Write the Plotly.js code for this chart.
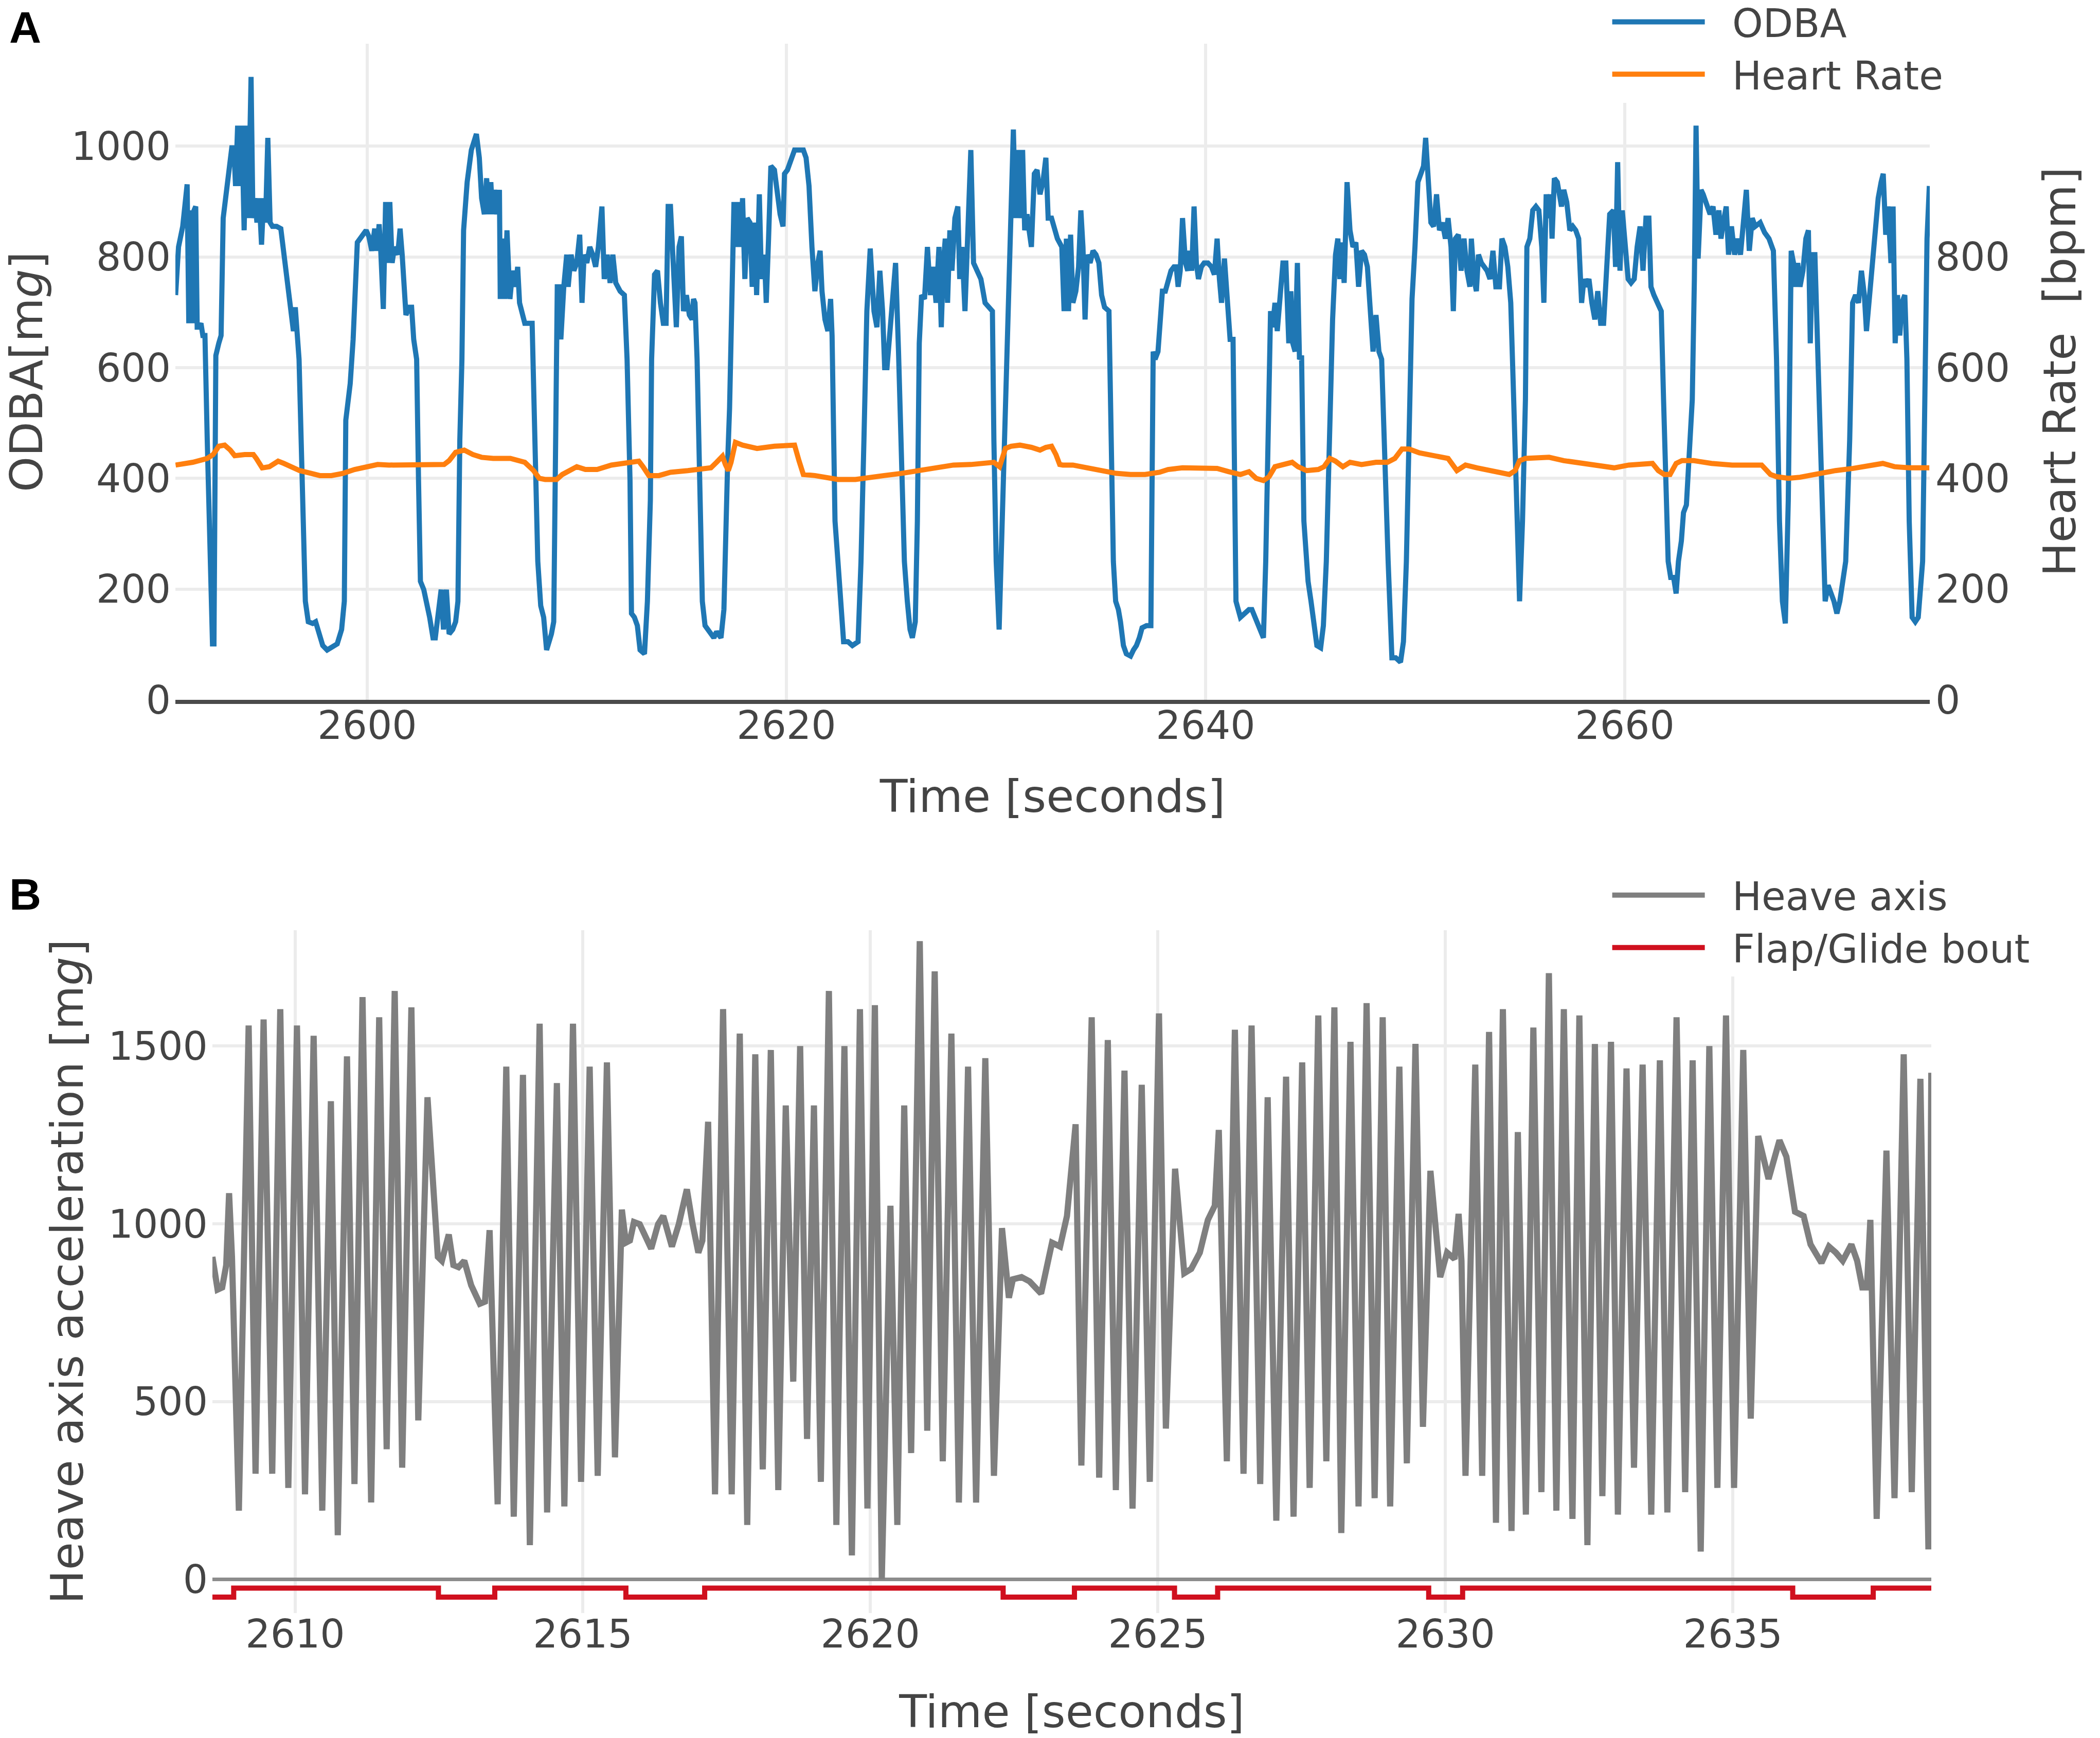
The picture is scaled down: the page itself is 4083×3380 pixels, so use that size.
<!DOCTYPE html>
<html>
<head>
<meta charset="utf-8">
<script src="https://cdn.plot.ly/plotly-3.0.1.min.js"></script>
<style>html,body{margin:0;padding:0;background:#fff;}#chart{width:4083px;height:3380px;}</style>
</head>
<body>
<div id="chart"></div>
<script>
// ---------- Panel A : ODBA and heart rate ----------
const odbaTime = [
2590.86,2591.0,2591.2,2591.41,2591.49,2591.57,2591.65,2591.74,2591.82,2591.89,2591.96,2592.07,2592.16,2592.26,2592.37,2592.51,2592.62,2592.69,2592.78,2592.92,
2593.03,2593.13,2593.33,2593.54,2593.64,2593.72,2593.82,2593.91,2594.02,2594.13,2594.23,2594.33,2594.46,2594.55,2594.64,2594.74,2594.85,2594.96,2595.06,2595.15,
2595.26,2595.37,2595.48,2595.68,2595.88,2596.02,2596.23,2596.37,2596.48,2596.57,2596.67,2596.75,2596.85,2596.99,2597.05,2597.19,2597.40,2597.54,2597.67,2597.88,
2598.09,2598.29,2598.57,2598.78,2598.91,2598.98,2599.19,2599.33,2599.53,2599.74,2599.95,2600.08,2600.22,2600.36,2600.47,2600.57,2600.64,2600.77,2600.88,2600.98,
2601.08,2601.19,2601.30,2601.46,2601.57,2601.67,2601.85,2601.99,2602.12,2602.22,2602.36,2602.45,2602.54,2602.70,2602.84,2602.98,2603.14,2603.25,2603.39,2603.53,
2603.64,2603.78,2603.91,2604.08,2604.22,2604.33,2604.42,2604.52,2604.60,2604.77,2604.97,2605.21,2605.35,2605.46,2605.59,2605.70,2605.80,2605.90,2605.98,2606.08,
2606.19,2606.31,2606.35,2606.45,2606.56,2606.67,2606.81,2606.94,2607.08,2607.18,2607.27,2607.38,2607.52,2607.87,2608.0,2608.14,2608.28,2608.42,2608.56,2608.69,
2608.79,2608.90,2609.01,2609.07,2609.18,2609.24,2609.38,2609.52,2609.59,2609.73,2609.86,2610.0,2610.14,2610.25,2610.35,2610.48,2610.62,2610.76,2610.90,2611.03,
2611.20,2611.31,2611.45,2611.59,2611.72,2611.86,2612.07,
2612.27,2612.40,2612.54,2612.61,2612.75,2612.89,2613.02,2613.23,2613.37,2613.51,2613.57,2613.71,2613.85,2613.99,2614.13,2614.26,2614.36,2614.47,2614.61,2614.75,
2614.88,2614.99,2615.09,2615.23,2615.37,2615.50,2615.57,2615.64,2615.74,2615.85,2615.99,2616.12,2616.33,2616.54,2616.67,2616.88,2617.02,2617.11,2617.20,2617.29,
2617.43,2617.50,2617.61,2617.71,2617.80,2617.91,2618.02,2618.13,2618.26,2618.37,2618.49,2618.58,2618.71,2618.81,2618.95,2619.04,2619.15,2619.26,2619.43,2619.57,
2619.70,2619.84,2619.91,2620.05,2620.26,2620.39,2620.60,2620.81,2620.94,2621.08,2621.22,2621.36,2621.50,2621.61,2621.70,2621.84,2621.98,2622.11,2622.18,2622.32,
2622.46,2622.60,2622.73,2622.94,2623.15,2623.42,2623.56,2623.70,2623.84,2624.0,2624.18,2624.32,2624.46,2624.59,2624.69,2624.80,2624.94,2625.08,2625.21,2625.35,
2625.49,2625.63,2625.77,2625.90,2626.01,2626.15,2626.25,2626.34,2626.45,2626.59,2626.73,2626.87,2627.0,2627.14,2627.28,2627.39,2627.49,2627.58,2627.69,2627.80,
2627.90,2628.04,2628.18,2628.27,2628.38,2628.52,2628.66,2628.80,2628.93,2629.07,2629.28,2629.48,2629.69,2629.83,2629.90,2630.01,2630.15,2630.24,2630.34,2630.45,
2630.61,2630.72,2630.83,2630.93,2631.03,2631.14,2631.27,2631.37,2631.48,2631.58,2631.69,2631.83,2631.96,2632.10,2632.24,2632.38,2632.49,2632.65,2632.93,
2633.14,2633.25,2633.36,2633.46,2633.56,2633.67,2633.81,2633.94,2634.05,2634.15,2634.25,2634.36,2634.49,2634.63,2634.77,2634.91,2635.04,2635.18,2635.39,2635.49,
2635.60,2635.71,2635.84,2635.94,2636.08,2636.22,2636.42,2636.56,2636.70,2636.84,2636.97,2637.18,2637.39,2637.50,2637.59,2637.73,2637.87,2637.94,2638.08,2638.21,
2638.35,2638.49,2638.60,2638.69,2638.79,2638.90,2639.04,2639.15,2639.25,2639.34,2639.45,2639.56,2639.66,2639.80,2639.93,2640.11,2640.28,2640.42,2640.55,2640.66,
2640.76,2640.90,2641.04,2641.17,2641.31,2641.38,2641.45,2641.66,2641.86,2642.07,2642.21,2642.41,2642.59,2642.76,2642.87,2642.96,2643.10,2643.20,2643.31,2643.42,
2643.52,2643.69,2643.83,2643.97,2644.07,2644.16,2644.27,2644.38,2644.48,2644.58,2644.69,2644.89,2645.03,2645.17,2645.31,2645.49,2645.62,2645.76,2645.93,2646.06,
2646.20,2646.31,2646.41,2646.50,2646.61,2646.75,2646.89,2647.03,2647.17,2647.30,2647.44,2647.58,2647.72,2647.85,2647.99,2648.13,2648.27,2648.40,2648.57,2648.71,
2648.89,2649.07,2649.30,2649.44,2649.58,2649.71,2649.85,2649.99,2650.13,2650.27,2650.40,2650.50,2650.61,2650.75,2650.88,2651.02,2651.16,2651.30,2651.44,2651.57,
2651.71,2651.82,2651.92,2652.06,2652.19,2652.33,2652.47,2652.61,2652.68,2652.81,2652.92,2653.02,2653.16,2653.30,2653.43,2653.57,2653.71,2653.85,
2654.02,2654.14,2654.28,2654.42,2654.56,2654.70,2654.84,2654.98,2655.12,2655.26,2655.33,2655.47,2655.61,2655.76,2655.90,2656.04,2656.14,2656.25,2656.36,2656.46,
2656.53,2656.64,2656.78,2656.88,2656.98,2657.09,2657.23,2657.38,2657.52,2657.66,2657.80,2657.94,2658.05,2658.15,2658.29,2658.43,2658.57,2658.71,2658.85,2658.99,
2659.14,2659.28,2659.46,2659.56,2659.66,2659.77,2659.88,2660.02,2660.16,2660.30,2660.45,2660.59,2660.73,2660.87,2661.01,2661.15,2661.25,2661.39,2661.57,2661.74,
2661.85,2661.95,2662.07,2662.19,2662.33,2662.45,2662.56,2662.70,2662.80,2662.94,2663.08,2663.22,2663.32,2663.40,2663.50,2663.64,2663.74,2663.85,2663.97,2664.07,
2664.21,2664.35,2664.49,2664.59,2664.70,2664.84,2664.95,2665.09,2665.24,2665.38,2665.52,2665.66,2665.80,2665.94,2666.08,2666.22,2666.46,2666.67,2666.88,2667.09,
2667.24,2667.38,2667.52,2667.66,2667.80,2667.94,2668.05,2668.15,2668.25,2668.36,2668.50,2668.64,2668.76,2668.85,2668.95,2669.07,2669.18,2669.28,2669.42,2669.56,
2669.70,2669.84,2669.98,2670.12,2670.26,2670.40,2670.54,2670.73,2670.87,2671.01,2671.15,2671.29,2671.43,2671.53,2671.67,2671.81,2671.95,2672.09,2672.23,2672.33,
2672.45,2672.56,2672.70,2672.80,2672.90,2673.01,2673.12,2673.22,2673.36,2673.46,2673.57,2673.71,2673.86,2674.0,2674.21,2674.35,2674.42,2674.53
];
const odbaValue = [
731,818,855,931,680,884,680,884,891,673,673,680,658,658,469,214,101,101,622,644,
658,870,928,997,997,928,1037,928,1037,848,1037,870,1125,870,906,862,906,822,906,862,
1015,862,855,855,851,811,738,709,666,709,666,615,469,250,178,141,138,141,127,98,
90,94,101,127,178,505,571,651,826,837,848,837,811,851,811,859,818,706,899,789,
899,789,818,804,851,804,695,709,709,651,615,396,214,199,178,149,112,112,156,199,
127,199,119,127,141,178,469,615,848,935,993,1022,979,906,877,942,877,935,877,921,
877,921,724,833,724,848,724,775,746,782,717,702,680,680,505,250,170,149,90,105,
119,141,432,746,746,651,746,804,746,804,775,789,840,717,804,789,818,804,782,818,
891,760,804,753,804,753,738,
731,615,396,156,149,134,90,83,178,360,615,768,775,717,680,680,891,891,797,673,
818,837,702,731,695,687,724,717,615,396,178,134,123,112,123,112,163,323,432,527,
818,899,818,899,818,906,760,870,862,746,862,731,913,760,804,717,833,964,957,906,
877,855,950,957,979,993,993,993,979,928,818,738,789,811,738,687,666,724,658,323,
250,178,105,105,98,105,250,469,702,815,702,673,775,702,600,600,658,717,789,629,
469,250,178,127,112,141,323,644,731,724,818,731,782,717,818,673,789,833,717,848,
775,870,891,760,818,702,848,993,789,775,760,717,709,702,469,250,127,250,360,469,
687,884,1030,870,993,870,993,848,877,848,818,950,957,913,935,979,870,870,833,
818,702,833,702,840,717,738,782,884,818,687,804,789,811,804,789,731,709,702,469,
250,178,163,141,98,83,79,90,98,112,130,134,134,629,615,629,702,738,738,760,
775,782,782,746,775,870,789,775,811,775,891,789,760,782,789,789,782,768,833,760,
717,797,724,651,651,396,178,149,156,163,163,145,130,112,250,432,702,673,717,666,
717,789,789,644,738,644,629,789,615,622,323,214,178,134,98,94,134,250,542,687,
804,833,760,826,753,935,848,818,826,746,811,804,782,687,629,695,629,615,396,250,
76,76,68,105,250,469,724,818,935,950,964,1015,942,862,855,913,848,862,833,870,
818,702,833,840,775,833,775,746,833,760,738,804,789,782,775,760,811,746,
746,833,818,782,717,542,323,178,323,542,818,833,884,891,884,818,717,913,870,913,
833,942,935,913,891,921,899,848,855,848,833,717,760,746,760,717,687,738,680,680,
789,877,884,782,971,775,884,811,760,753,760,818,855,775,870,870,746,731,717,702,
542,396,250,221,221,192,250,287,338,352,432,542,760,1037,797,921,913,899,884,877,
891,840,884,833,862,891,804,855,804,833,804,855,921,811,870,855,862,844,833,811,
615,323,178,138,360,811,789,746,789,746,775,833,848,644,804,804,644,542,360,178,
207,192,178,156,178,214,250,469,717,731,717,775,731,666,731,789,848,906,935,950,
840,891,789,891,644,731,658,717,731,615,323,149,141,149,250,687,833,928
];
const hrTime = [
2590.86,2591.68,2592.37,2592.65,2592.92,2593.20,2593.47,2593.68,2594.16,2594.57,2594.71,2594.99,2595.33,2595.75,2596.02,2596.37,2596.78,2597.33,2597.74,2598.29,
2598.84,2599.40,2599.95,2600.50,2601.05,2601.60,2602.29,2602.98,2603.67,2603.91,2604.22,2604.63,2605.04,2605.46,2606.01,2606.83,2607.52,2607.94,2608.21,2608.49,
2609.04,2609.31,2609.59,2610.0,2610.41,2610.97,2611.65,2612.07,
2612.54,2612.96,2613.16,2613.44,2613.92,2614.47,2615.30,2615.99,2616.40,2616.67,2616.95,2617.09,2617.23,2617.36,2617.57,2617.91,2618.60,2619.43,2620.39,2620.60,
2620.81,2621.36,2621.91,2622.46,2623.29,2624.11,2624.66,2625.49,2626.32,2627.14,2627.97,2628.80,2629.90,2630.17,2630.45,2630.72,2631.14,2631.69,2632.10,2632.38,
2632.65,2632.86,2633.04,
2633.19,2633.67,2634.36,2635.04,2635.73,2636.42,2637.11,2637.80,2638.21,2638.90,2639.73,2640.55,2641.11,2641.66,2642.07,2642.41,2642.76,2643.03,2643.31,2643.72,
2644.13,2644.41,2644.82,2645.38,2645.65,2645.93,2646.20,2646.55,2646.89,2647.44,2648.13,2648.68,2649.03,2649.37,2649.71,2650.20,2650.88,2651.57,2651.99,2652.40,
2652.95,2653.50,2653.89,
2654.49,2654.77,2654.98,2655.26,2655.97,2656.39,2657.09,2658.08,2658.78,2659.49,2660.19,2661.32,2661.60,2661.88,2662.16,2662.45,2662.73,2663.29,2664.14,2665.12,
2666.53,2666.95,2667.24,2667.80,2668.36,2669.07,2669.49,2670.05,2670.90,2671.46,2672.31,2672.87,2673.57,2674.53
];
const hrValue = [
424,429,436,443,458,460,451,441,443,443,436,419,421,431,427,421,414,409,405,405,
409,416,421,425,424,424,424,424,425,432,447,451,443,438,436,436,429,414,400,398,
398,407,412,421,416,416,424,427,
429,431,421,405,405,411,414,416,419,429,440,425,414,429,465,460,454,458,460,432,
407,405,401,398,398,401,405,409,414,419,424,425,429,421,454,458,460,456,451,456,
458,443,425,
424,424,419,414,409,407,407,411,416,419,419,418,412,407,412,400,396,403,421,425,
429,421,414,416,421,436,431,421,429,425,429,429,436,453,453,446,441,436,414,424,
419,414,411,
407,414,432,436,438,438,432,427,424,419,424,427,414,407,407,427,432,432,427,424,
424,407,403,400,402,407,411,414,418,421,427,421,419,419
];

// ---------- Panel B : heave axis and flap/glide bouts ----------
const heaveTime = [
2608.56,2608.65,2608.73,2608.80,2608.85,2608.90,2609.02,2609.19,2609.31,2609.45,2609.60,2609.74,2609.88,2610.03,2610.17,2610.32,2610.47,2610.62,2610.74,2610.90,
2611.03,2611.17,2611.32,2611.46,2611.59,2611.73,2611.86,2612.02,2612.14,2612.30,2612.48,2612.55,2612.67,2612.75,2612.84,2612.94,2613.06,2613.21,2613.30,2613.38,
2613.52,2613.67,2613.80,2613.96,2614.08,2614.25,2614.38,2614.55,2614.68,2614.83,2614.97,2615.12,2615.26,2615.42,2615.56,2615.68,2615.75,2615.82,2615.89,2615.99,
2616.19,2616.31,2616.40,2616.55,2616.67,2616.81,2616.91,2617.01,2617.08,2617.18,2617.30,2617.44,2617.59,2617.73,2617.86,2618.00,2618.13,2618.27,2618.40,2618.53,
2618.66,2618.78,2618.90,2619.02,2619.14,2619.28,2619.41,2619.55,2619.68,2619.82,2619.95,2620.08,2620.20,2620.35,2620.47,2620.59,2620.71,2620.86,2620.99,2621.12,
2621.26,2621.41,2621.54,2621.70,2621.84,2622.00,2622.15,2622.29,2622.41,2622.48,2622.63,2622.77,2622.97,2623.16,2623.30,2623.42,
2623.57,2623.67,2623.85,2623.98,2624.13,2624.27,2624.42,2624.56,2624.72,2624.86,2625.02,2625.14,2625.30,2625.46,2625.58,2625.73,2625.87,2625.99,2626.06,2626.20,
2626.34,2626.49,2626.63,2626.78,2626.91,2627.06,2627.23,2627.36,2627.51,2627.64,2627.79,2627.93,2628.07,2628.19,2628.35,2628.49,2628.63,2628.77,2628.91,2629.04,
2629.20,2629.33,2629.48,2629.61,2629.74,2629.91,2630.03,2630.16,2630.23,2630.28,2630.35,2630.52,2630.64,2630.76,2630.88,2631.00,
2631.15,2631.26,2631.40,2631.53,2631.67,2631.80,2631.93,2632.06,2632.21,2632.33,2632.47,2632.60,2632.73,2632.88,2633.00,2633.15,2633.28,2633.43,2633.58,2633.73,
2633.86,2634.02,2634.17,2634.30,2634.44,2634.59,2634.73,2634.88,2635.02,2635.18,2635.31,2635.44,2635.62,2635.81,2635.93,2636.08,2636.23,2636.35,2636.54,2636.67,
2636.79,2636.91,2637.06,2637.16,2637.25,2637.33,2637.39,2637.50,2637.67,2637.81,2637.97,2638.11,2638.26,2638.40,2638.45
];
const heaveValue = [
907,815,821,884,1086,907,193,1558,297,1575,297,1604,257,1558,239,1529,193,1345,124,1471,
268,1638,216,1581,366,1655,314,1609,447,1356,907,896,970,884,878,896,827,775,781,982,
211,1442,176,1419,96,1563,188,1396,205,1563,274,1442,291,1454,343,1040,947,953,1005,999,
930,999,1022,936,999,1097,999,919,953,1287,239,1604,239,1535,153,1477,309,1489,251,1333,
556,1500,395,1333,274,1655,153,1500,67,1604,199,1615,0,1051,153,1333,355,1795,418,1710,
332,1535,216,1442,216,1466,291,988,792,844,850,838,804,947,936,1022,
1280,320,1581,286,1517,251,1431,199,1391,274,1592,424,1155,861,873,919,1011,1051,1264,332,
1546,297,1558,268,1356,165,1414,176,1454,257,1586,332,1609,130,1512,205,1621,228,1581,205,
1442,326,1506,429,1149,850,919,901,1028,896,291,1448,291,1540,159,1604,
136,1258,182,1552,245,1705,193,1604,170,1586,96,1506,234,1512,182,1437,314,1448,182,1460,
188,1581,245,1460,78,1500,257,1586,257,1489,452,1247,1126,1235,1189,1034,1022,942,890,936,
919,896,942,896,821,821,1011,170,1206,228,1477,245,1408,84,1425
];
const boutTime  = [2608.56,2608.93,2612.49,2613.47,2615.75,2617.12,2622.31,2623.55,2625.29,2626.04,2629.71,2630.30,2636.04,2637.44,2638.45];
const boutValue = [-50,-25,-50,-25,-50,-25,-50,-25,-50,-25,-50,-25,-50,-25,-25];

// ---------- tick labels ----------
const ticksA_x = [2600, 2620, 2640, 2660];
const ticksA_y = [0, 200, 400, 600, 800, 1000];
const ticksA_y2 = [0, 200, 400, 600, 800];
const ticksB_x = [2610, 2615, 2620, 2625, 2630, 2635];
const ticksB_y = [0, 500, 1000, 1500];

const FONT = 'DejaVu Sans, Verdana, sans-serif';
const TICKSIZE = 76, TITLESIZE = 88;
const GRID = '#ececec';
const NB = '\u00a0\u00a0';

const traces = [
  {x: odbaTime, y: odbaValue, name: NB + 'ODBA', type: 'scatter', mode: 'lines',
   line: {color: '#1f77b4', width: 10}, xaxis: 'x', yaxis: 'y', legend: 'legend'},
  {x: hrTime, y: hrValue, name: NB + 'Heart Rate', type: 'scatter', mode: 'lines',
   line: {color: '#ff7f0e', width: 10}, xaxis: 'x', yaxis: 'y2', legend: 'legend'},
  {x: heaveTime, y: heaveValue, name: NB + 'Heave axis', type: 'scatter', mode: 'lines',
   line: {color: '#7f7f7f', width: 12}, xaxis: 'x2', yaxis: 'y3', legend: 'legend2'},
  {x: boutTime, y: boutValue, name: NB + 'Flap/Glide bout', type: 'scatter', mode: 'lines',
   line: {color: '#d0101e', width: 10, shape: 'hv'}, xaxis: 'x2', yaxis: 'y3', legend: 'legend2'}
];

const axisCommon = {
  showgrid: true, gridcolor: GRID, gridwidth: 6, zeroline: false, ticks: '',
  tickfont: {family: FONT, size: TICKSIZE, color: '#444'}, automargin: false
};

const layout = {
  width: 4083, height: 3380,
  margin: {l: 0, r: 0, t: 0, b: 0, pad: 0, autoexpand: false},
  paper_bgcolor: '#ffffff', plot_bgcolor: '#ffffff',
  font: {family: FONT, size: TICKSIZE, color: '#444'},
  xaxis: Object.assign({}, axisCommon, {
    domain: [0.08352, 0.91893], anchor: 'y', range: [2590.85, 2674.55],
    tickmode: 'array', tickvals: ticksA_x, ticktext: ticksA_x.map(String),
    showline: true, linecolor: '#4a4a4a', linewidth: 8, ticklabelstandoff: -23,
    title: {text: 'Time [seconds]', font: {family: FONT, size: TITLESIZE, color: '#444'}, standoff: 66}
  }),
  yaxis: Object.assign({}, axisCommon, {
    domain: [0.59734, 0.97485], anchor: 'x', range: [0, 1185],
    tickmode: 'array', tickvals: ticksA_y, ticktext: ticksA_y.map(String), ticklabelstandoff: 8,
    title: {text: 'ODBA[m<i>g</i>]', font: {family: FONT, size: TITLESIZE, color: '#444'}, standoff: 30}
  }),
  yaxis2: Object.assign({}, axisCommon, {
    overlaying: 'y', side: 'right', anchor: 'x', range: [0, 1185], showgrid: false,
    tickmode: 'array', tickvals: ticksA_y2, ticktext: ticksA_y2.map(String), ticklabelstandoff: 10,
    title: {text: 'Heart Rate\u00a0 [bpm]', font: {family: FONT, size: TITLESIZE, color: '#444'}, standoff: 66}
  }),
  xaxis2: Object.assign({}, axisCommon, {
    domain: [0.10115, 0.91967], anchor: 'y3', range: [2608.56, 2638.45],
    tickmode: 'array', tickvals: ticksB_x, ticktext: ticksB_x.map(String), ticklabelstandoff: -10,
    title: {text: 'Time [seconds]', font: {family: FONT, size: TITLESIZE, color: '#444'}, standoff: 81}
  }),
  yaxis3: Object.assign({}, axisCommon, {
    domain: [0.07189, 0.46479], anchor: 'x2', range: [-95, 1826],
    zeroline: true, zerolinecolor: '#8c8c8c', zerolinewidth: 7,
    tickmode: 'array', tickvals: ticksB_y, ticktext: ticksB_y.map(String), ticklabelstandoff: 8,
    title: {text: 'Heave axis acceleration [m<i>g</i>]', font: {family: FONT, size: TITLESIZE, color: '#444'}, standoff: 19}
  }),
  legend: {
    x: 0.7665, xanchor: 'left', y: 1.004, yanchor: 'top', bgcolor: '#ffffff', borderwidth: 0,
    font: {family: FONT, size: TICKSIZE, color: '#444'}, itemwidth: 180, tracegroupgap: 0
  },
  legend2: {
    x: 0.7665, xanchor: 'left', y: 0.5015, yanchor: 'top', bgcolor: '#ffffff', borderwidth: 0,
    font: {family: FONT, size: TICKSIZE, color: '#444'}, itemwidth: 180, tracegroupgap: 0
  },
  annotations: [
    {text: '<b>A</b>', xref: 'paper', yref: 'paper', x: 0.004, y: 0.999, xanchor: 'left', yanchor: 'top',
     showarrow: false, font: {family: 'Liberation Sans, Arial, sans-serif', size: 86, color: '#000'}},
    {text: '<b>B</b>', xref: 'paper', yref: 'paper', x: 0.004, y: 0.4855, xanchor: 'left', yanchor: 'middle',
     showarrow: false, font: {family: 'Liberation Sans, Arial, sans-serif', size: 86, color: '#000'}}
  ]
};

Plotly.newPlot('chart', traces, layout, {displayModeBar: false, staticPlot: true});
</script>
</body>
</html>
